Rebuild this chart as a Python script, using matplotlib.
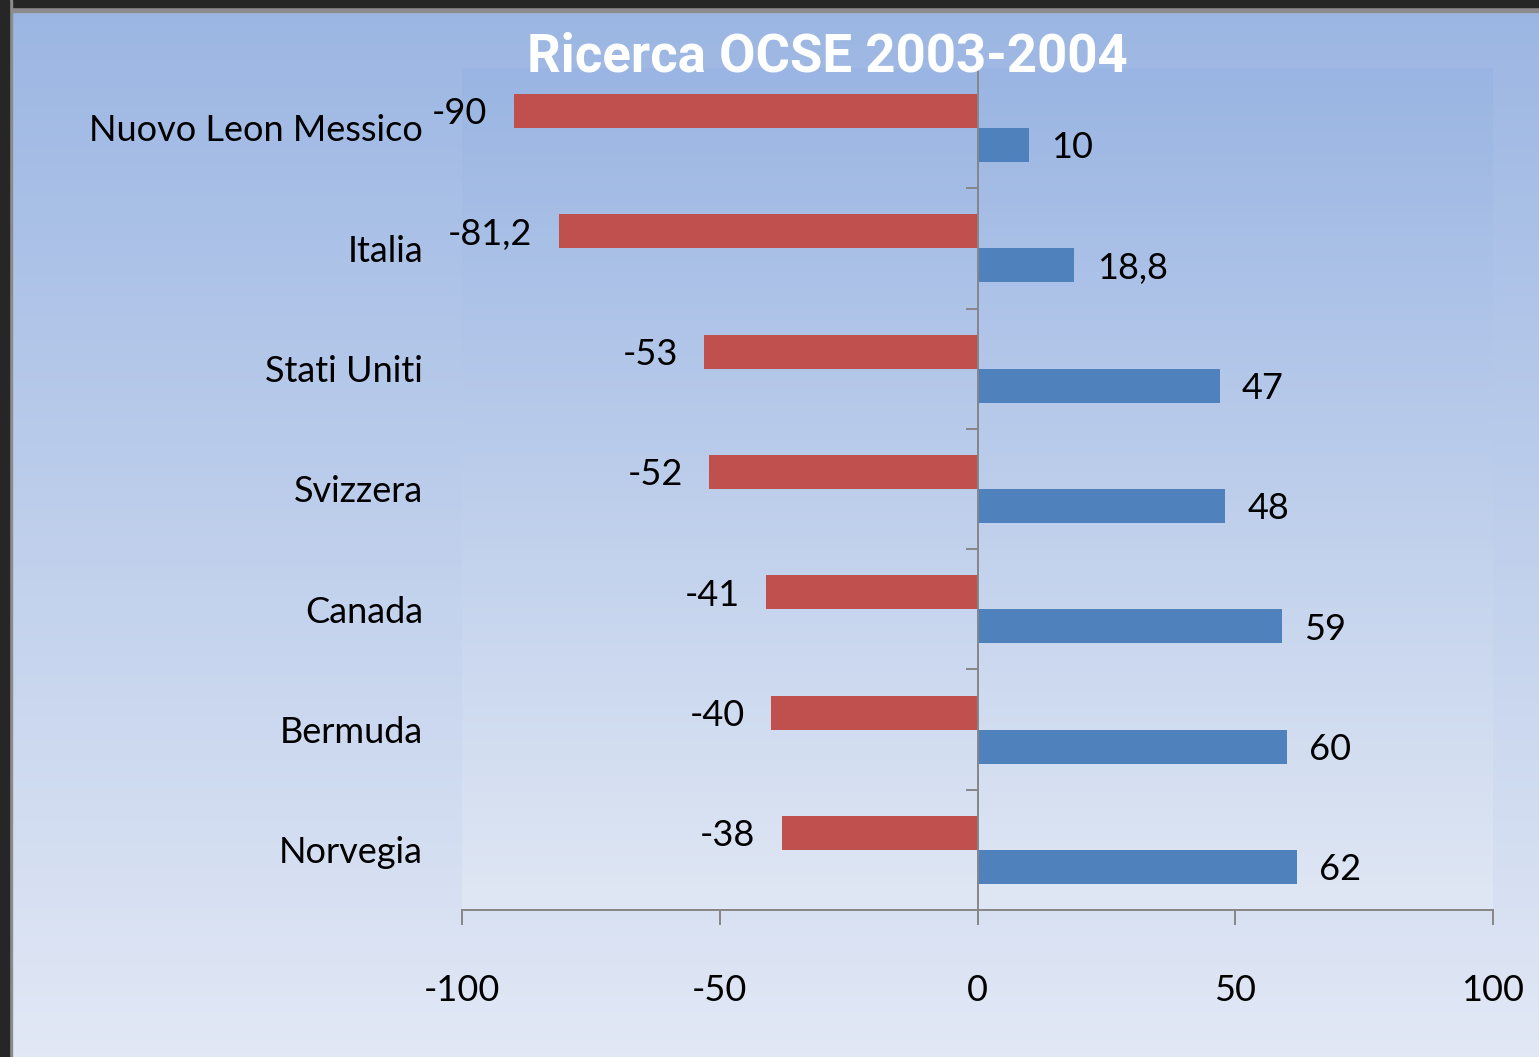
import numpy as np
import matplotlib.pyplot as plt
from matplotlib.colors import LinearSegmentedColormap
from matplotlib.patches import Rectangle
from matplotlib.transforms import blended_transform_factory

plt.rcParams['font.family'] = ['Lato', 'DejaVu Sans']

# Dati
paesi = ['Nuovo Leon Messico', 'Italia', 'Stati Uniti', 'Svizzera', 'Canada', 'Bermuda', 'Norvegia']
negativi = [-90, -81.2, -53, -52, -41, -40, -38]
positivi = [10, 18.8, 47, 48, 59, 60, 62]
tick_x = [-100, -50, 0, 50, 100]

W, H = 1539, 1057
fig = plt.figure(figsize=(W / 100, H / 100), dpi=100)

# Sfondo sfumato
grad = np.linspace(0, 1, 256)[:, None]
bg = fig.add_axes([0, 0, 1, 1], zorder=0)
bg.imshow(grad, aspect='auto', extent=[0, 1, 0, 1],
          cmap=LinearSegmentedColormap.from_list('bg', ['#9BB6E3', '#E2E8F5']))
bg.axis('off')

# Cornice scura in alto e a sinistra
fig.patches.append(Rectangle((0, 1 - 12 / H), 1, 12 / H, transform=fig.transFigure, color='#8C8C8C', zorder=1))
fig.patches.append(Rectangle((0, 1 - 7 / H), 1, 7 / H, transform=fig.transFigure, color='#262626', zorder=1))
fig.patches.append(Rectangle((0, 0), 12 / W, 1, transform=fig.transFigure, color='#8C8C8C', zorder=1))
fig.patches.append(Rectangle((0, 0), 9 / W, 1, transform=fig.transFigure, color='#262626', zorder=1))

pos = [462 / W, 1 - 910 / H, (1493 - 462) / W, (910 - 68) / H]

# Area del grafico
pa = fig.add_axes(pos, zorder=1)
pa.imshow(grad, aspect='auto', extent=[0, 1, 0, 1],
          cmap=LinearSegmentedColormap.from_list('pa', ['#9AB5E3', '#E0E7F4']))
pa.axis('off')

ax = fig.add_axes(pos, zorder=2)
ax.patch.set_alpha(0)

y = np.arange(len(paesi))
h = 0.283
ax.barh(y - h / 2, negativi, height=h, color='#C0504D')
ax.barh(y + h / 2, positivi, height=h, color='#4F81BD')

ax.set_xlim(-100, 100)
ax.set_ylim(len(paesi) - 0.5, -0.5)

grey = '#868686'
for s in ['top', 'right']:
    ax.spines[s].set_visible(False)
ax.spines['left'].set_position(('data', 0))
for s in ['left', 'bottom']:
    ax.spines[s].set_color(grey)
    ax.spines[s].set_linewidth(1.4)

fs = 26
ax.set_xticks(tick_x)
ax.set_xticklabels([str(t) for t in tick_x])
ax.tick_params(axis='x', direction='out', length=11, width=1.4, color=grey,
               labelsize=fs, pad=35)
ax.set_yticks(np.arange(0.5, len(paesi) - 0.5, 1))
ax.set_yticklabels([])
ax.tick_params(axis='y', direction='out', length=8.5, width=1.4, color=grey)

fmt = lambda v: f'{v:g}'.replace('.', ',')
tr = blended_transform_factory(ax.transAxes, ax.transData)
for i, nome in enumerate(paesi):
    ax.annotate(nome, (0, i), xycoords=tr, xytext=(-28, -2), textcoords='offset points',
                ha='right', va='center', fontsize=fs)
    ax.annotate(fmt(negativi[i]), (negativi[i], i - h / 2), xytext=(-19, -2),
                textcoords='offset points', ha='right', va='center', fontsize=fs)
    ax.annotate(fmt(positivi[i]), (positivi[i], i + h / 2), xytext=(16, -2),
                textcoords='offset points', ha='left', va='center', fontsize=fs)

fig.text(827 / W, 1 - 57 / H, 'Ricerca OCSE 2003-2004', ha='center', va='center',
         fontsize=38, fontweight='bold', color='white', family=['Roboto', 'DejaVu Sans'], zorder=5)

fig.savefig('out.png', dpi=100)
